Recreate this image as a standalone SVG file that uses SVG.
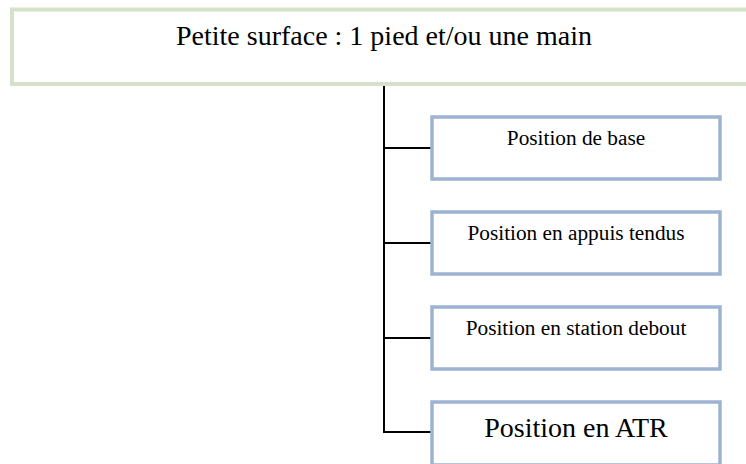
<svg xmlns="http://www.w3.org/2000/svg" width="746" height="464" viewBox="0 0 746 464">
<style>
.top{fill:#fff;stroke:#d5e2c9;stroke-width:4}
.box{fill:#fff;stroke:#9db3d3;stroke-width:3.5}
.t{font-family:"Liberation Serif","Times New Roman",serif;fill:#000;text-anchor:middle}
.s{font-size:21.3px}
.l{font-size:28px}
.c{stroke:#000;stroke-width:2;fill:none}
</style>
<rect width="746" height="464" fill="#fff"/>
<g id="connectors">
<line class="c" x1="384" y1="86" x2="384" y2="433"/>
<line class="c" x1="383" y1="148" x2="431" y2="148"/>
<line class="c" x1="383" y1="243" x2="431" y2="243"/>
<line class="c" x1="383" y1="338" x2="431" y2="338"/>
<line class="c" x1="383" y1="432" x2="431" y2="432"/>
</g>
<g id="root">
<rect class="top" x="12" y="9.5" width="760" height="74.5"/>
<text class="t l" x="384" y="45">Petite surface : 1 pied et/ou une main</text>
</g>
<g id="n1">
<rect class="box" x="432" y="117" width="288" height="62"/>
<text class="t s" x="576" y="145">Position de base</text>
</g>
<g id="n2">
<rect class="box" x="432" y="212" width="288" height="62"/>
<text class="t s" x="576" y="240">Position en appuis tendus</text>
</g>
<g id="n3">
<rect class="box" x="432" y="307" width="288" height="62"/>
<text class="t s" x="576" y="335">Position en station debout</text>
</g>
<g id="n4">
<rect class="box" x="432" y="402" width="288" height="63"/>
<text class="t l" x="576" y="437">Position en ATR</text>
</g>
</svg>
